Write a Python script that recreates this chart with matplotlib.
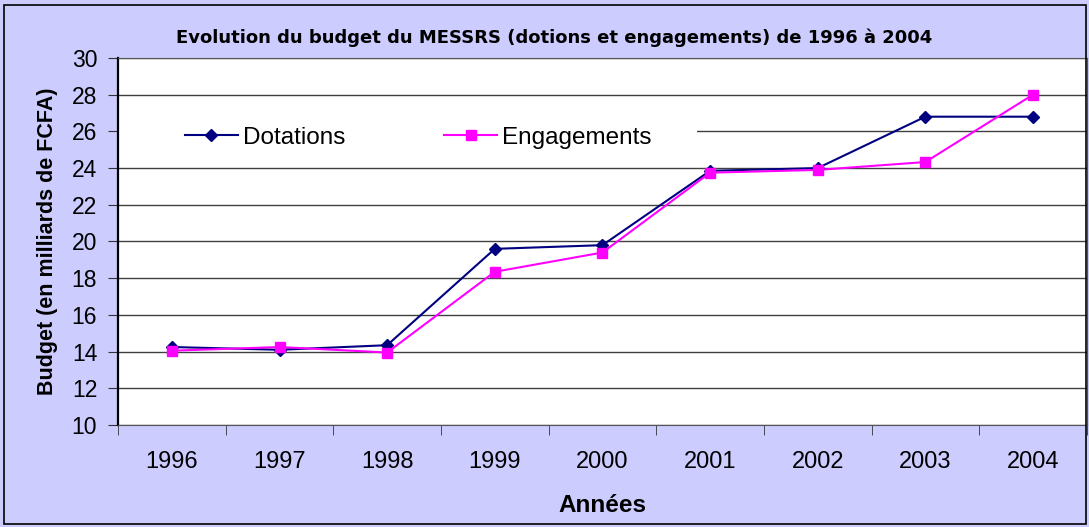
import matplotlib
matplotlib.use("Agg")
import matplotlib.pyplot as plt
from matplotlib.patches import Rectangle

years = ["1996", "1997", "1998", "1999", "2000", "2001", "2002", "2003", "2004"]
dotations = [14.25, 14.1, 14.35, 19.6, 19.8, 23.85, 24.0, 26.8, 26.8]
engagements = [14.05, 14.25, 13.95, 18.35, 19.4, 23.75, 23.9, 24.33, 28.0]


def main():
    plt.rcParams['font.family'] = ['Liberation Sans', 'DejaVu Sans']

    fig = plt.figure(figsize=(10.89, 5.27), dpi=100)
    fig.patch.set_facecolor("#CCCCFF")
    fig.patches.append(Rectangle((0.004, 0.006), 0.993, 0.985, transform=fig.transFigure,
                                 fill=False, edgecolor="black", linewidth=1.2))
    ax = fig.add_axes([0.1084, 0.1935, 0.8896, 0.6965])
    ax.set_facecolor("white")

    x = list(range(len(years)))
    ax.plot(x, dotations, '-', color="#000080", linewidth=1.5, marker='D', markersize=6.6,
            label="Dotations", zorder=3)
    ax.plot(x, engagements, '-', color="#FF00FF", linewidth=1.5, marker='s', markersize=7.7,
            label="Engagements", zorder=3)

    ax.set_xlim(-0.5, len(years) - 0.5)
    ax.set_ylim(10, 30)
    ax.set_yticks(range(10, 31, 2))
    ax.set_xticks(x)
    ax.set_xticklabels(years)
    ax.set_xticks([i + 0.5 for i in range(-1, len(years))], minor=True)
    ax.tick_params(axis='x', which='major', length=0, labelsize=17, pad=18.5)
    ax.tick_params(axis='x', which='minor', length=7, color="#333333")
    ax.tick_params(axis='y', length=7, labelsize=16.5, color="#333333", pad=8)
    ax.yaxis.grid(True, color="#404040", linewidth=1)
    ax.set_axisbelow(True)

    for side in ["top", "right"]:
        ax.spines[side].set_color("#555555")
    ax.spines["left"].set_linewidth(1.6)
    ax.spines["left"].set_color("black")
    ax.spines["bottom"].set_color("#555555")

    fig.text(0.5087, 0.928, "Evolution du budget du MESSRS (dotions et engagements) de 1996 à 2004",
             fontsize=13, fontweight="bold", family="DejaVu Sans", ha="center", va="center")
    ax.set_xlabel("Années", fontsize=17.5, fontweight="bold", labelpad=15)
    ax.set_ylabel("Budget (en milliards de FCFA)", fontsize=15.5, fontweight="bold", labelpad=10)

    # white box behind the legend hides the 26 gridline like in the original
    ax.add_patch(Rectangle((-0.002, 0.745), 0.6, 0.07, transform=ax.transAxes,
                           facecolor="white", edgecolor="none", zorder=1))
    ax.legend(loc='center left', bbox_to_anchor=(0.069, 0.782), ncol=2, fontsize=17.5,
              frameon=False, handlelength=2.18, handletextpad=0.2, columnspacing=4.07,
              borderpad=0, borderaxespad=0)

    fig.savefig("out.png", dpi=100, facecolor=fig.get_facecolor())


if __name__ == "__main__":
    main()
